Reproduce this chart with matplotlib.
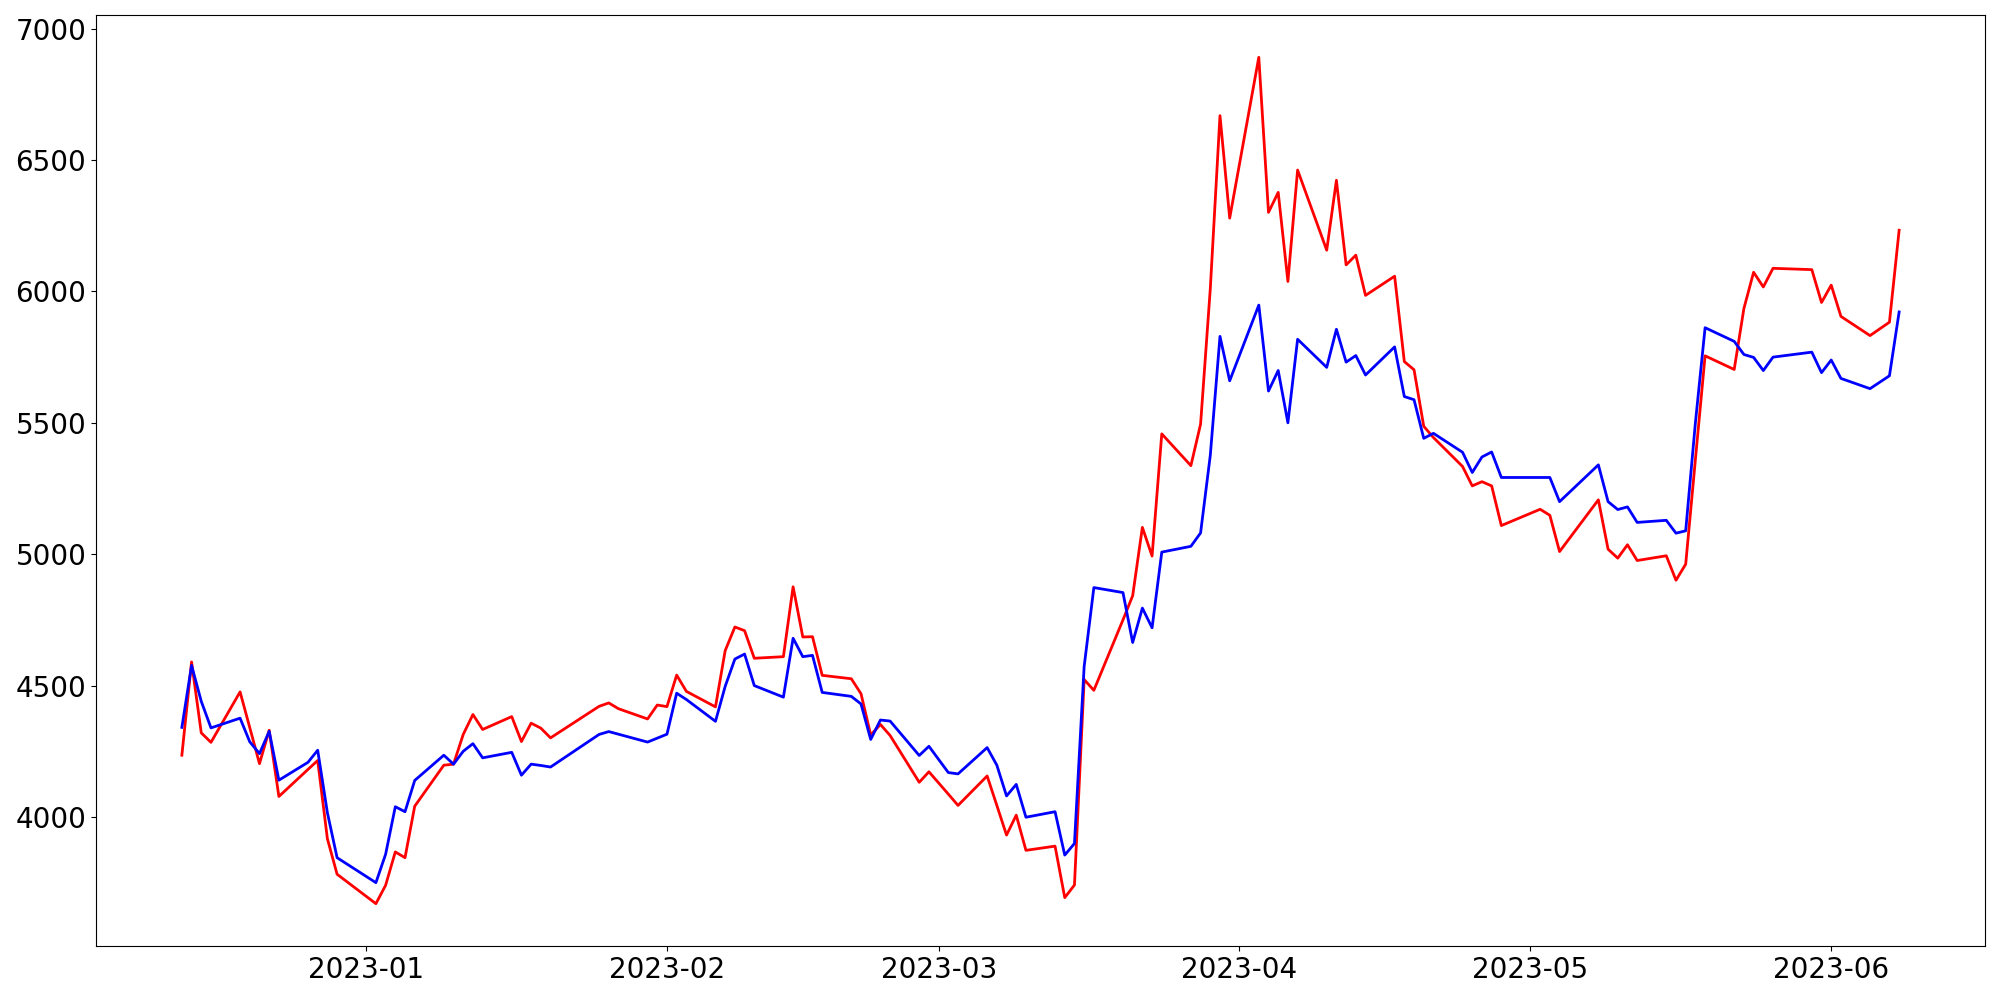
import numpy as np
import pandas as pd
import matplotlib
matplotlib.use('Agg')
import matplotlib.pyplot as plt
import matplotlib.dates as mdates

# Días hábiles (sin festivos del mercado)
festivos = ['2022-12-30', '2023-01-23', '2023-01-24', '2023-03-01',
            '2023-05-01', '2023-05-05', '2023-05-29', '2023-06-06']
fechas = pd.bdate_range('2022-12-13', '2023-06-08')
fechas = fechas[~fechas.isin(pd.to_datetime(festivos))]

serie_roja = [
    # dic
    4235, 4590, 4320, 4284, 4476, 4340, 4203, 4330, 4078, 4181, 4215, 3917, 3782,
    # ene
    3670, 3740, 3867, 3845, 4041, 4197, 4201, 4314, 4390, 4333, 4382, 4287, 4357, 4338, 4301,
    4421, 4434, 4412, 4373, 4426,
    # feb
    4420, 4540, 4478, 4419, 4633, 4723, 4709, 4604, 4610, 4876, 4685, 4686, 4539, 4526, 4469,
    4312, 4352, 4310, 4132, 4172,
    # mar
    4087, 4044, 4156, 4044, 3931, 4007, 3873, 3889, 3693, 3741, 4523, 4482, 4750, 4842, 5102,
    4993, 5458, 5337, 5495, 6010, 6669, 6279,
    # abr
    6891, 6301, 6377, 6038, 6462, 6157, 6423, 6101, 6138, 5985, 6058, 5733, 5702, 5487, 5444,
    5334, 5260, 5276, 5260, 5109,
    # may
    5171, 5148, 5010, 5207, 5019, 4985, 5036, 4976, 4994, 4901, 4962, 5360, 5755, 5703, 5935,
    6073, 6017, 6088, 6083, 5958,
    # jun
    6024, 5905, 5832, 5883, 6233,
]

serie_azul = [
    # dic
    4341, 4577, 4440, 4339, 4376, 4286, 4241, 4326, 4140, 4208, 4254, 4016, 3845,
    # ene
    3750, 3858, 4039, 4020, 4139, 4235, 4201, 4250, 4279, 4225, 4246, 4159, 4201, 4196, 4190,
    4314, 4325, 4315, 4285, 4300,
    # feb
    4315, 4471, 4447, 4364, 4497, 4601, 4620, 4500, 4456, 4680, 4610, 4615, 4474, 4459, 4430,
    4295, 4369, 4365, 4234, 4269,
    # mar
    4169, 4164, 4264, 4197, 4080, 4124, 3999, 4020, 3855, 3899, 4573, 4873, 4854, 4664, 4795,
    4720, 5008, 5030, 5081, 5376, 5829, 5660,
    # abr
    5948, 5621, 5699, 5500, 5818, 5711, 5856, 5731, 5756, 5682, 5789, 5600, 5588, 5441, 5460,
    5388, 5311, 5370, 5389, 5292,
    # may
    5292, 5292, 5200, 5340, 5200, 5170, 5180, 5121, 5129, 5080, 5089, 5500, 5862, 5810, 5760,
    5749, 5699, 5750, 5769, 5691,
    # jun
    5739, 5669, 5630, 5679, 5922,
]

fig, ax = plt.subplots(figsize=(20, 10), dpi=100)
fig.subplots_adjust(left=0.048, right=0.9925, top=0.985, bottom=0.054)

ax.plot(fechas, serie_roja, color='red', linewidth=2)
ax.plot(fechas, serie_azul, color='blue', linewidth=2)

ax.xaxis.set_major_locator(mdates.MonthLocator())
ax.xaxis.set_major_formatter(mdates.DateFormatter('%Y-%m'))
ax.tick_params(axis='both', labelsize=20)

fig.savefig('out.png')
